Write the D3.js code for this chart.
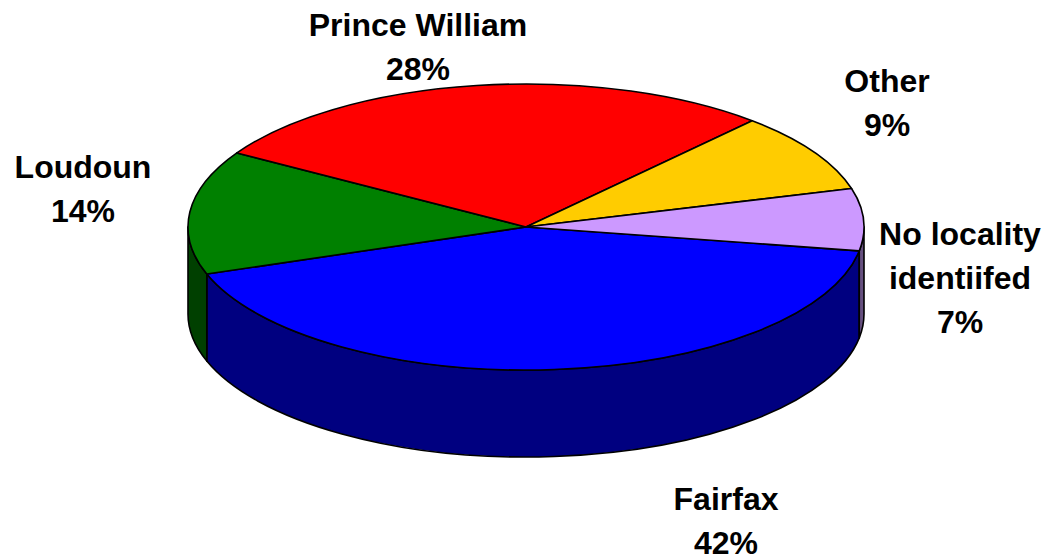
<!DOCTYPE html>
<html>
<head>
<meta charset="utf-8">
<script src="https://cdn.jsdelivr.net/npm/d3@7"></script>
<style>
  html, body { margin: 0; padding: 0; background: #ffffff; }
  svg { display: block; }
</style>
</head>
<body>
<svg id="chart" width="1048" height="560"></svg>
<script>
// ---- data ----
const categories = ["Fairfax", "Loudoun", "Prince William", "Other", "No locality identiifed"];
const values = [42, 14, 28, 9, 7];
const labelLines = [["Fairfax"], ["Loudoun"], ["Prince William"], ["Other"], ["No locality", "identiifed"]];

// ---- styles / layout ----
const topColors = ["#0000FF", "#008000", "#FF0000", "#FFCC00", "#CC99FF"];
const sideColors = ["#000080", "#004000", "#800000", "#806600", "#665080"];
const labelAnchors = [[726, 510], [83, 178], [418, 36], [887, 92], [960, 245]];
const lineStep = 44;

const W = 1048, H = 560;
const cx = 526, cy = 227, rx = 338, ry = 143, depth = 87;
const startDeg = 9.6;

const svg = d3.select("#chart");

// d3.pie angles: 0 at 12 o'clock, clockwise. Convert to screen angle t = a - PI/2
const pie = d3.pie().sort(null).value(d => d.value)
  .startAngle(startDeg * Math.PI / 180 + Math.PI / 2)
  .endAngle(startDeg * Math.PI / 180 + Math.PI / 2 + 2 * Math.PI);

const data = categories.map((c, i) => ({ name: c, value: values[i], i }));
const arcs = pie(data);

const xS = d3.scaleLinear().domain([-1, 1]).range([cx - rx, cx + rx]);
const yS = d3.scaleLinear().domain([-1, 1]).range([cy - ry, cy + ry]);
const P = (t, dz = 0) => [xS(Math.cos(t)), yS(Math.sin(t)) + dz];

const total = d3.sum(values);

// ---- side faces (front half only) ----
const sideG = svg.append("g");
arcs.forEach(a => {
  const t0 = a.startAngle - Math.PI / 2;
  const t1 = a.endAngle - Math.PI / 2;
  [[0, Math.PI], [2 * Math.PI, 3 * Math.PI], [-2 * Math.PI, -Math.PI]].forEach(([f0, f1]) => {
    const s = Math.max(t0, f0), e = Math.min(t1, f1);
    if (e - s > 1e-4) {
      const p0 = P(s), p1 = P(e), q1 = P(e, depth), q0 = P(s, depth);
      const d = `M${p0[0]},${p0[1]} A${rx},${ry} 0 0 1 ${p1[0]},${p1[1]} L${q1[0]},${q1[1]} A${rx},${ry} 0 0 0 ${q0[0]},${q0[1]} Z`;
      sideG.append("path")
        .attr("d", d)
        .attr("fill", sideColors[a.data.i])
        .attr("stroke", "#000")
        .attr("stroke-width", 1.6)
        .attr("stroke-linejoin", "round");
    }
  });
});

// ---- top faces ----
const topG = svg.append("g");
arcs.forEach(a => {
  const t0 = a.startAngle - Math.PI / 2;
  const t1 = a.endAngle - Math.PI / 2;
  const p0 = P(t0), p1 = P(t1);
  const large = (t1 - t0) > Math.PI ? 1 : 0;
  const d = `M${cx},${cy} L${p0[0]},${p0[1]} A${rx},${ry} 0 ${large} 1 ${p1[0]},${p1[1]} Z`;
  topG.append("path")
    .attr("d", d)
    .attr("fill", topColors[a.data.i])
    .attr("stroke", "#000")
    .attr("stroke-width", 1.6)
    .attr("stroke-linejoin", "round");
});

// ---- labels ----
const fmt = d3.format(".0%");
const labG = svg.append("g")
  .attr("font-family", "'Liberation Sans', Arial, Helvetica, sans-serif")
  .attr("font-weight", "bold")
  .attr("font-size", 32)
  .attr("fill", "#000")
  .attr("text-anchor", "middle");

arcs.forEach(a => {
  const i = a.data.i;
  const lines = labelLines[i].concat([fmt(a.data.value / total)]);
  const [lx, ly] = labelAnchors[i];
  const txt = labG.append("text").attr("x", lx).attr("y", ly);
  lines.forEach((l, k) => {
    txt.append("tspan").attr("x", lx).attr("y", ly + k * lineStep).text(l);
  });
});
</script>
</body>
</html>
